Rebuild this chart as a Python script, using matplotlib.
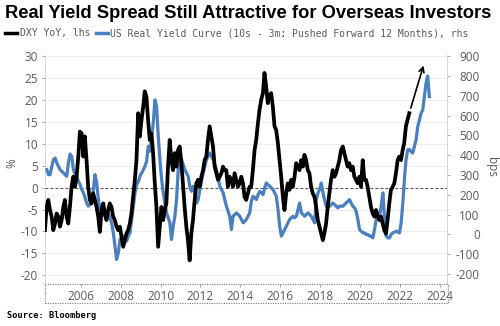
import numpy as np
import pandas as pd
import matplotlib
matplotlib.use("Agg")
import matplotlib.pyplot as plt
import matplotlib.dates as mdates
from matplotlib.patches import Rectangle
from matplotlib.lines import Line2D

plt.rcParams['axes.unicode_minus'] = False
plt.rcParams['font.family'] = ['Open Sans', 'DejaVu Sans']

# ---------------- data ----------------
title = "Real Yield Spread Still Attractive for Overseas Investors"
label_dxy = "DXY YoY, lhs"
label_ry = "US Real Yield Curve (10s - 3m; Pushed Forward 12 Months), rhs"
source = "Source: Bloomberg"

dxy_start = "2004-03-17"   # monthly observations, %
dxy_yoy = [
    -9.7, -4.4, -2.8, -5.1, -6.6, -9.7, -8.2, -5.9, -6.6, -8.9,
    -7.4, -4.4, -2.8, -6.6, -8.2, -4.4, 0.2, 2.5, 0.2, 2.5,
    7.1, 12.8, 12.4, 7.1, 11.7, 6.3, 0.2, -2.8, -3.6, -1.3,
    -2.8, -4.4, -6.6, -10.1, -5.1, -3.6, -5.9, -7.4, -5.1, -3.6,
    -4.4, -6.6, -7.4, -8.9, -9.7, -8.9, -11.2, -13.5, -12.0, -10.5,
    -9.7, -8.2, -5.9, -2.1, 1.8, 6.3, 17.0, 11.7, 15.5, 18.5,
    22.0, 20.8, 15.5, 10.9, 12.4, 7.9, 1.0, -4.4, -13.5, -8.9,
    -4.4, -7.4, -5.1, -3.6, 4.8, 10.9, 6.3, 4.0, 7.9, 4.8,
    8.6, 9.4, 5.6, 0.2, -4.4, -8.9, -12.0, -16.6, -10.5, -7.4,
    -2.8, 1.0, 1.8, 0.2, 2.5, 4.0, 6.3, 7.1, 10.9, 14.0,
    11.7, 9.4, 4.8, 3.3, 1.8, 2.5, 3.3, 4.8, 4.0, 4.0,
    0.2, 2.5, 1.8, 0.2, 3.3, 1.8, 0.2, 1.0, 2.5, 1.0,
    -2.1, -2.8, -1.3, 0.2,
    0.2, 4.0, 8.6, 10.9, 14.7, 17.8, 20.1, 21.6, 26.2, 23.1,
    19.3, 20.8, 21.6, 18.5, 14.0, 13.2, 10.2, 6.3, 2.5, -2.1,
    -5.1, -1.3, 1.0, -0.5, 1.8, 0.2, 2.5, 5.6, 4.8, 4.0,
    6.3, 4.8, 7.5, 6.3, 4.0, 3.3, 0.2, -1.3, -2.1, -4.4,
    -7.4, -8.9, -10.5, -12.0, -10.5, -8.2, -4.4, -1.3, 1.8, 4.0,
    2.5, 3.3, 4.8, 6.3, 8.6, 9.4, 7.9, 6.3, 4.8, 5.6,
    4.0, 4.8, 2.5, 1.8, 1.0, 2.5, 0.2, 6.3, 1.8, 1.8,
    0.2, -2.1, -4.4, -5.9, -6.6, -5.1, -6.6, -7.4, -6.6, -8.2,
    -9.7, -10.5, -7.4, -3.6, -0.5, 0.2, 1.0, 3.3, 6.3, 7.1,
    6.3, 8.6, 10.2, 14.0, 15.5, 17.0,
]

ry_start = "2004-04-20"    # monthly observations, bps
real_yield_curve = [
    327, 302, 302, 344, 378, 386, 361, 344, 327, 319,
    310, 302, 294, 361, 406, 394, 327, 302, 294, 268,
    252, 227, 210, 185, 159, 143, 151, 159, 227, 302,
    260, 176, 126, 126, 109, 92, 92, 109, 84, 59,
    8, -59, -126, -92, -25, -17, -8, -25, -34, -8,
    8, 76, 143, 210, 252, 268, 294, 310, 327, 344,
    369, 445, 420, 495, 562, 680, 646, 495, 378, 277,
    210, 159, 109, 84, 59, -25, 42, 92, 176, 327,
    378, 378, 352, 327, 310, 294, 243, 218, 243, 210,
    159, 176, 227, 268, 310, 344, 378, 394, 411, 394,
    378, 352, 327, 285, 243, 227, 210, 176, 143, 117,
    92, 25, 92, 101, 109, 101, 92, 76, 59, 67,
    76, 92, 109,
    168, 193, 185, 176, 201, 218, 210, 201, 235, 260,
    252, 243, 235, 227, 210, 193, 126, 42, -8, 8,
    25, 42, 59, 76, 84, 92, 84, 92, 126, 159,
    109, 101, 92, 101, 109, 101, 92, 76, 59, 176,
    210, 227, 260, 210, 176, 143, 134, 143, 151, 159,
    151, 143, 134, 143, 143, 143, 151, 159, 168, 176,
    159, 143, 134, 117, 76, 25, 17, 8, 8, 0,
    0, -8, -8, -17, 25, 76, 109, 92, 143, 210,
    92, -8, -17, -17, 0, 8, 12, 17, 12, 8,
    59, 159, 277, 378, 428, 428, 420, 411, 445, 478,
    545, 579, 612, 629, 696, 763, 800, 696,
]

left_ticks = [-20, -15, -10, -5, 0, 5, 10, 15, 20, 25, 30]
right_ticks = [-200, -100, 0, 100, 200, 300, 400, 500, 600, 700, 800, 900]
year_ticks = [2006, 2008, 2010, 2012, 2014, 2016, 2018, 2020, 2022, 2024]

arrow_from = ("2022-07-15", 18.2)
arrow_to = ("2023-03-05", 27.9)

# ---------------- figure ----------------
W, H = 500, 326
fig = plt.figure(figsize=(W / 100, H / 100), dpi=100)
fig.patch.set_facecolor("white")

x0, x1, ytop, ybot = 45, 447, 55, 284
pos = [x0 / W, (H - ybot) / H, (x1 - x0) / W, (ybot - ytop) / H]

ax1 = fig.add_axes(pos)
ax2 = ax1.twinx()
ax3 = fig.add_axes(pos, sharex=ax1, sharey=ax1)
ax3.set_axis_off()

dxy_dates = pd.date_range(pd.Timestamp(dxy_start).replace(day=1), periods=len(dxy_yoy), freq="MS") \
    + pd.Timedelta(days=pd.Timestamp(dxy_start).day - 1)
ry_dates = pd.date_range(pd.Timestamp(ry_start).replace(day=1), periods=len(real_yield_curve), freq="MS") \
    + pd.Timedelta(days=pd.Timestamp(ry_start).day - 1)

blue = "#4a7fc0"
gray_txt = "#5a5a5a"

ax2.plot(ry_dates, real_yield_curve, color=blue, lw=2.3, solid_joinstyle="round")
ax3.plot(dxy_dates, dxy_yoy, color="black", lw=2.7, solid_joinstyle="round")

ax1.axhline(0, color="#555555", lw=0.8, ls=(0, (2.5, 2)), zorder=1)

ax1.set_ylim(-22, 30.3)
ax2.set_ylim(-250, 906)
ax1.set_xlim(pd.Timestamp("2004-03-18"), pd.Timestamp("2024-05-08"))

ax1.set_yticks(left_ticks)
ax1.set_yticklabels([str(v) for v in left_ticks])
ax2.set_yticks(right_ticks)
ax2.set_yticklabels([str(v) for v in right_ticks])
ax1.set_xticks([pd.Timestamp(f"{y}-01-01") for y in year_ticks])
ax1.set_xticklabels([str(y) for y in year_ticks])

ax1.yaxis.grid(True, color="#e9e9e9", lw=0.6)
ax1.set_axisbelow(True)

for a in (ax1, ax2):
    for s in a.spines.values():
        s.set_visible(False)
ax1.spines["left"].set_visible(True)
ax1.spines["left"].set_color("#cfcfcf")
ax1.spines["left"].set_linewidth(0.6)
ax2.spines["right"].set_visible(True)
ax2.spines["right"].set_color("#cfcfcf")
ax2.spines["right"].set_linewidth(0.6)

ax1.tick_params(axis="y", length=2.5, width=0.6, color="#999999", pad=2.5,
                labelsize=8.5, labelcolor=gray_txt)
ax2.tick_params(axis="y", length=2.5, width=0.6, color="#999999", pad=21,
                labelsize=8.5, labelcolor=gray_txt)
for lbl in ax2.get_yticklabels():
    lbl.set_horizontalalignment("right")
ax1.tick_params(axis="x", length=2.5, width=0.6, color="#999999", pad=1.5,
                labelsize=8.5, labelcolor=gray_txt)

# dotted date box
fig.add_artist(Rectangle((x0 / W, (H - 303) / H), (448 - x0) / W, (303 - ybot) / H,
                         transform=fig.transFigure, fill=False, ec="#777777",
                         lw=0.8, ls=(0, (1, 1.2))))

# arrow
ax3.annotate("", xy=(pd.Timestamp(arrow_to[0]), arrow_to[1]),
             xytext=(pd.Timestamp(arrow_from[0]), arrow_from[1]),
             arrowprops=dict(arrowstyle="->", color="black", lw=1.2,
                             mutation_scale=9, shrinkA=0, shrinkB=0))

# axis titles
fig.text(12 / W, 1 - 163 / H, "%", rotation=90, ha="center", va="center",
         fontsize=8.5, color=gray_txt)
fig.text(492 / W, 1 - 167 / H, "bps", rotation=270, ha="center", va="center",
         fontsize=8.5, color=gray_txt)

# title, fitted to reference width
t = fig.text(5 / W, 1 - 14 / H, title, ha="left", va="center", fontsize=11,
             fontweight="bold", color="black",
             family=["Liberation Sans", "DejaVu Sans"])
fig.canvas.draw()
bb = t.get_window_extent()
t.set_fontsize(11 * 488 / bb.width)

# legend
mono = ["DejaVu Sans Mono"]
fig.add_artist(Line2D([5 / W, 17 / W], [1 - 33 / H] * 2, transform=fig.transFigure,
                      color="black", lw=2.5))
fig.text(20 / W, 1 - 33 / H, label_dxy, ha="left", va="center", fontsize=7,
         family=mono, color=gray_txt)
fig.add_artist(Line2D([96 / W, 108 / W], [1 - 33 / H] * 2, transform=fig.transFigure,
                      color=blue, lw=2.5))
fig.text(110 / W, 1 - 33 / H, label_ry, ha="left", va="center", fontsize=7,
         family=mono, color=gray_txt)

fig.text(7 / W, 1 - 316 / H, source, ha="left", va="center", fontsize=6.2,
         fontweight="bold", family=mono, color="black")

fig.savefig("out.png", dpi=100)
